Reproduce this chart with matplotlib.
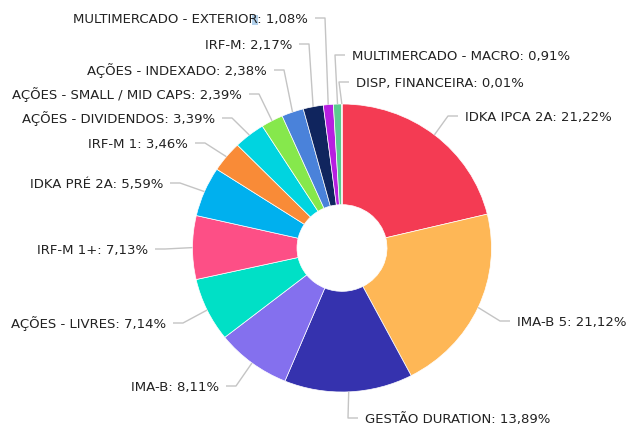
import numpy as np
import matplotlib.pyplot as plt
from matplotlib.patches import Rectangle

# composição da carteira, no sentido horário a partir do topo
labels = ["IDKA IPCA 2A", "IMA-B 5", "GESTÃO DURATION", "IMA-B", "AÇÕES - LIVRES",
          "IRF-M 1+", "IDKA PRÉ 2A", "IRF-M 1", "AÇÕES - DIVIDENDOS",
          "AÇÕES - SMALL / MID CAPS", "AÇÕES - INDEXADO", "IRF-M",
          "MULTIMERCADO - EXTERIOR", "MULTIMERCADO - MACRO", "DISP. FINANCEIRA"]
values = [21.22, 21.12, 13.89, 8.11, 7.14, 7.13, 5.59, 3.46, 3.39, 2.39, 2.38, 2.17,
          1.08, 0.91, 0.01]
colors = ["#F43B53", "#FEB756", "#3532AE", "#8470EE", "#00E0C6", "#FD4F86", "#00B0EE",
          "#F98B37", "#00D4E0", "#86E84C", "#4A82DA", "#10255E", "#B71FE0", "#5BCB8F",
          "#9a9a9a"]

# posição dos rótulos em pixels (x da borda do texto, y do centro) e lado
label_pos = [(465, 116, "r"), (517, 321, "r"), (365, 418, "r"), (219, 386, "l"),
             (166, 323, "l"), (148, 249, "l"), (163, 183, "l"), (188, 143, "l"),
             (215, 118, "l"), (242, 94, "l"), (267, 70, "l"), (292, 44, "l"),
             (308, 18, "l"), (352, 55, "r"), (356, 82, "r")]

W, H = 627, 428
CX, CY = 342, 248
RX, RY = 149.5, 144
HOLE = 45
k = RX / RY


def to_data(x, y):
    return x, (H - y) * k


fig = plt.figure(figsize=(W / 100, H / 100), dpi=100)
ax = fig.add_axes([0, 0, 1, 1])
ax.pie(values, colors=colors, startangle=90, counterclock=False,
       center=to_data(CX, CY), radius=RX,
       wedgeprops=dict(width=RX - HOLE, edgecolor="white", linewidth=0.5))
ax.set_aspect("auto")
ax.set_xlim(0, W)
ax.set_ylim(0, H * k)
ax.axis("off")

# pequeno realce azul que aparece atrás do "R" de EXTERIOR
ax.add_patch(Rectangle(to_data(252, 25), 6, 10 * k, color="#9fc6e8", alpha=0.8, lw=0))

cum = np.cumsum(values) - np.array(values) / 2
for i, (name, v) in enumerate(zip(labels, values)):
    tx, ty, side = label_pos[i]
    theta = np.deg2rad(90 - 3.6 * cum[i])
    ex, ey = CX + RX * np.cos(theta), CY - RY * np.sin(theta)
    d = 1 if side == "l" else -1
    pts = [(tx + 7 * d, ty), (tx + 17 * d, ty), (ex, ey)]
    xs, ys = zip(*[to_data(px, py) for px, py in pts])
    ax.plot(xs, ys, color="#c4c4c4", lw=1, solid_capstyle="butt")
    txt = f"{name}: {v:.2f}%".replace(".", ",")
    ax.text(*to_data(tx, ty + 5), txt, ha="right" if side == "l" else "left",
            va="baseline", fontsize=9.5, color="#222222", family="DejaVu Sans")

fig.savefig("out.png", dpi=100, facecolor="white")
